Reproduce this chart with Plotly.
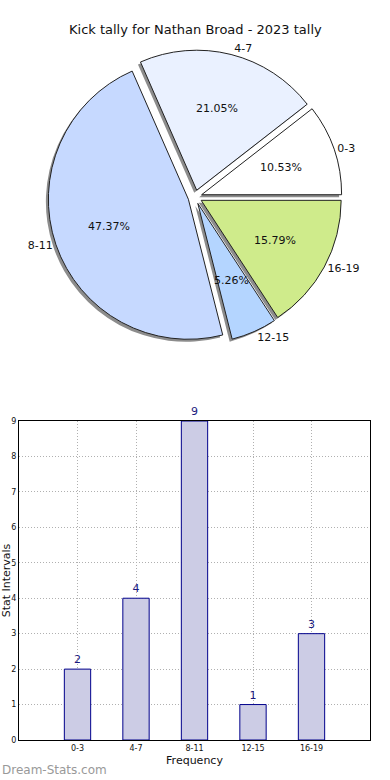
import math
import plotly.graph_objects as go

categories = ["0-3", "4-7", "8-11", "12-15", "16-19"]
counts = [2, 4, 9, 1, 3]
pie_colors = ["#ffffff", "#eaf1ff", "#c6d9ff", "#b4d5ff", "#cfeb8b"]
title = "Kick tally for Nathan Broad - 2023 tally"

W, H = 390, 780
def py(p):  # page pixel from top -> paper y
    return 1 - p / H
def px(p):
    return p / W

explode = 0.05
pull = [explode] * len(categories)
total = sum(counts)
rot = 90 - 360.0 * counts[0] / total

cx, cy, half = 195, 197, 147
radius = half / (1 + explode)
pie_dom_x = [px(cx - half), px(cx + half)]
pie_dom_y = [py(cy + half), py(cy - half)]

fig = go.Figure()

sh = 2.5
fig.add_trace(go.Pie(
    labels=categories, values=counts, sort=False, direction="counterclockwise",
    rotation=rot, pull=pull, textinfo="none", hoverinfo="skip",
    marker=dict(colors=["#8c8c8c"] * 5, line=dict(width=0)),
    domain=dict(x=[px(cx - half - sh), px(cx + half - sh)],
                y=[py(cy + half + sh), py(cy - half + sh)]),
    showlegend=False,
))
fig.add_trace(go.Pie(
    labels=categories, values=counts, sort=False, direction="counterclockwise",
    rotation=rot, pull=pull, textinfo="none",
    marker=dict(colors=pie_colors, line=dict(color="#222222", width=1)),
    domain=dict(x=pie_dom_x, y=pie_dom_y), showlegend=False,
))
fig.add_trace(go.Pie(
    labels=categories, values=counts, sort=False, direction="counterclockwise",
    rotation=rot, pull=[0.12] * len(categories), texttemplate="%{label}", textposition="outside",
    textfont=dict(family="DejaVu Sans", size=11, color="#111111"),
    marker=dict(colors=["rgba(0,0,0,0)"] * 5, line=dict(width=0)),
    domain=dict(x=pie_dom_x, y=pie_dom_y), showlegend=False, hoverinfo="skip",
))

# percentage labels at 0.6 radius of each (exploded) wedge, derived from the data
pct_annotations = []
cum = 0
for c in counts:
    mid = (cum + c / 2) / total * 2 * math.pi
    cum += c
    rr = (0.6 + explode) * radius
    pct_annotations.append(dict(
        text=f"{100 * c / total:.2f}%", x=px(cx + rr * math.cos(mid)),
        y=py(cy - rr * math.sin(mid)), xref="paper", yref="paper",
        xanchor="center", yanchor="middle",
        showarrow=False, font=dict(size=11, color="#111111")))

fig.add_trace(go.Bar(
    x=categories, y=counts, width=0.45, text=[str(c) for c in counts],
    textposition="outside", cliponaxis=False,
    textfont=dict(family="DejaVu Sans", size=11, color="#1a1a80"),
    marker=dict(color="#ccccE5", line=dict(color="#00008b", width=1)),
    xaxis="x", yaxis="y", showlegend=False,
))

fig.update_layout(
    width=W, height=H, margin=dict(l=0, r=0, t=0, b=0, autoexpand=False),
    paper_bgcolor="white", plot_bgcolor="white",
    font=dict(family="DejaVu Sans", color="#111111"),
    xaxis=dict(domain=[px(19), px(370)], range=[-1, 5], type="category", automargin=False,
               showline=True, linecolor="black", linewidth=1, mirror=True,
               showgrid=True, gridcolor="#b0b0b0", griddash="1px,2px",
               ticks="", tickfont=dict(size=8), title=dict(text="Frequency", font=dict(size=11), standoff=4)),
    yaxis=dict(domain=[py(740), py(421)], range=[0, 9], dtick=1, automargin=False,
               showline=True, linecolor="black", linewidth=1, mirror=True,
               showgrid=True, gridcolor="#b0b0b0", griddash="1px,2px", zeroline=False,
               ticks="", tickfont=dict(size=8),
               title=dict(text="Stat Intervals", font=dict(size=11), standoff=2)),
    annotations=[
        dict(text=title, x=px(195), xanchor="center", y=py(30), yanchor="middle",
             xref="paper", yref="paper", showarrow=False,
             font=dict(size=13, color="#111111")),
        dict(text="Dream-Stats.com", x=0, xanchor="left", y=py(770),
             yanchor="middle", xref="paper", yref="paper", showarrow=False,
             font=dict(size=12, color="#999999")),
    ] + pct_annotations,
)

fig.write_html("out.html", config={"displayModeBar": False},
               post_script="document.body.style.margin='0';document.body.style.overflow='hidden';")
